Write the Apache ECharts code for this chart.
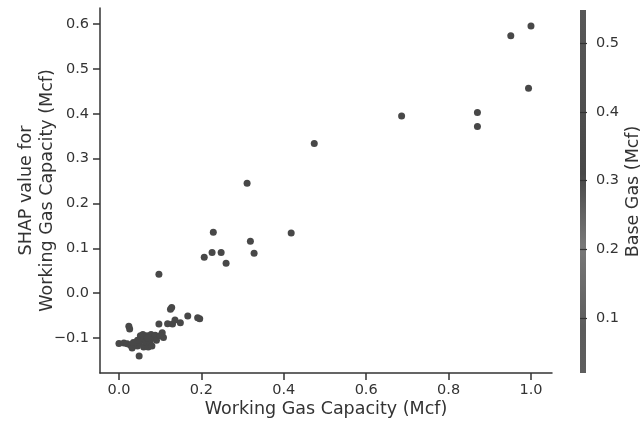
<!DOCTYPE html>
<html>
<head>
<meta charset="utf-8">
<script src="https://cdn.jsdelivr.net/npm/echarts@6/dist/echarts.min.js"></script>
<style>
  html, body { margin: 0; padding: 0; background: #ffffff; }
  #chart { width: 642px; height: 425px; }
</style>
</head>
<body>
<div id="chart"></div>
<script>
// Working Gas Capacity (normalized) values
const workingGas = [
  0.000, 0.012, 0.020, 0.028, 0.032, 0.024, 0.026, 0.040, 0.045, 0.049,
  0.050, 0.055, 0.058, 0.060, 0.062, 0.065, 0.068, 0.071, 0.075, 0.078,
  0.080, 0.085, 0.088, 0.091, 0.052, 0.045, 0.035, 0.070, 0.097, 0.105,
  0.108, 0.100, 0.118, 0.130, 0.136, 0.128, 0.125, 0.149, 0.167, 0.191,
  0.196, 0.097, 0.207, 0.226, 0.248, 0.260, 0.229, 0.319, 0.328, 0.418,
  0.311, 0.474, 0.686, 0.870, 0.870, 0.994, 0.951, 1.000
];
// SHAP values for Working Gas Capacity
const shapValues = [
  -0.112, -0.111, -0.113, -0.116, -0.122, -0.074, -0.080, -0.115, -0.118, -0.140,
  -0.110, -0.100, -0.092, -0.120, -0.105, -0.109, -0.095, -0.120, -0.110, -0.092,
  -0.118, -0.100, -0.094, -0.105, -0.095, -0.105, -0.110, -0.100, -0.069, -0.088,
  -0.099, -0.095, -0.068, -0.069, -0.060, -0.032, -0.036, -0.066, -0.051, -0.055,
  -0.057, 0.042, 0.080, 0.091, 0.091, 0.067, 0.136, 0.116, 0.089, 0.134,
  0.245, 0.334, 0.395, 0.403, 0.372, 0.457, 0.574, 0.596
];
const xTicks = [0.0, 0.2, 0.4, 0.6, 0.8, 1.0];
const yTicks = [-0.1, 0.0, 0.1, 0.2, 0.3, 0.4, 0.5, 0.6];
const cbarTicks = [0.1, 0.2, 0.3, 0.4, 0.5];

const fmt = v => v.toFixed(1).replace('-', '\u2212');
const points = workingGas.map((x, i) => [x, shapValues[i]]);

const textColor = '#333333';
const axisColor = '#333333';
const font = 'DejaVu Sans';

const chart = echarts.init(document.getElementById('chart'));
chart.setOption({
  animation: false,
  backgroundColor: '#ffffff',
  textStyle: { fontFamily: font },
  grid: [
    { left: 100, right: 90, top: 8, bottom: 52, containLabel: false, outerBoundsMode: 'none' },
    {
      left: 580, width: 6, top: 10, bottom: 52, show: true, borderWidth: 0, outerBoundsMode: 'none',
      backgroundColor: new echarts.graphic.LinearGradient(0, 0, 0, 1, [
        { offset: 0.00, color: '#585858' },
        { offset: 0.25, color: '#505050' },
        { offset: 0.45, color: '#474747' },
        { offset: 0.55, color: '#606060' },
        { offset: 0.65, color: '#787878' },
        { offset: 0.75, color: '#6c6c6c' },
        { offset: 0.88, color: '#5c5c5c' },
        { offset: 1.00, color: '#5e5e5e' }
      ])
    }
  ],
  xAxis: [
    {
      type: 'value', gridIndex: 0, min: -0.046, max: 1.051,
      name: 'Working Gas Capacity (Mcf)', nameLocation: 'middle', nameGap: 27, nameMoveOverlap: false,
      nameTextStyle: { fontSize: 17.5, color: textColor, fontFamily: font },
      splitLine: { show: false },
      axisLine: { show: true, onZero: false, lineStyle: { color: axisColor, width: 1.5 } },
      axisTick: { show: true, length: 7, lineStyle: { color: axisColor, width: 1.5 }, customValues: xTicks },
      axisLabel: { fontSize: 14.5, color: textColor, margin: 10, fontFamily: font, customValues: xTicks, formatter: fmt }
    },
    { type: 'value', gridIndex: 1, min: 0, max: 1, show: false }
  ],
  yAxis: [
    {
      type: 'value', gridIndex: 0, min: -0.178, max: 0.636,
      name: 'SHAP value for\nWorking Gas Capacity (Mcf)', nameLocation: 'middle', nameGap: 42, nameMoveOverlap: false,
      nameTextStyle: { fontSize: 17.5, color: textColor, fontFamily: font, lineHeight: 21 },
      splitLine: { show: false },
      axisLine: { show: true, onZero: false, lineStyle: { color: axisColor, width: 1.5 } },
      axisTick: { show: true, length: 7, lineStyle: { color: axisColor, width: 1.5 }, customValues: yTicks },
      axisLabel: { fontSize: 14.5, color: textColor, margin: 11, fontFamily: font, customValues: yTicks, formatter: fmt }
    },
    {
      type: 'value', gridIndex: 1, min: 0.02, max: 0.548, position: 'right',
      name: 'Base Gas (Mcf)', nameLocation: 'middle', nameGap: 38, nameRotate: 90, nameMoveOverlap: false,
      nameTextStyle: { fontSize: 17.5, color: textColor, fontFamily: font },
      splitLine: { show: false },
      axisLine: { show: false },
      axisTick: { show: true, inside: false, length: 7, lineStyle: { color: axisColor, width: 1.2 }, customValues: cbarTicks },
      axisLabel: { fontSize: 14.5, color: textColor, margin: 10, fontFamily: font, customValues: cbarTicks, formatter: fmt }
    }
  ],
  series: [
    {
      type: 'scatter', xAxisIndex: 0, yAxisIndex: 0,
      data: points, symbolSize: 7,
      itemStyle: { color: '#484848', opacity: 1 }
    }
  ]
});
</script>
</body>
</html>
